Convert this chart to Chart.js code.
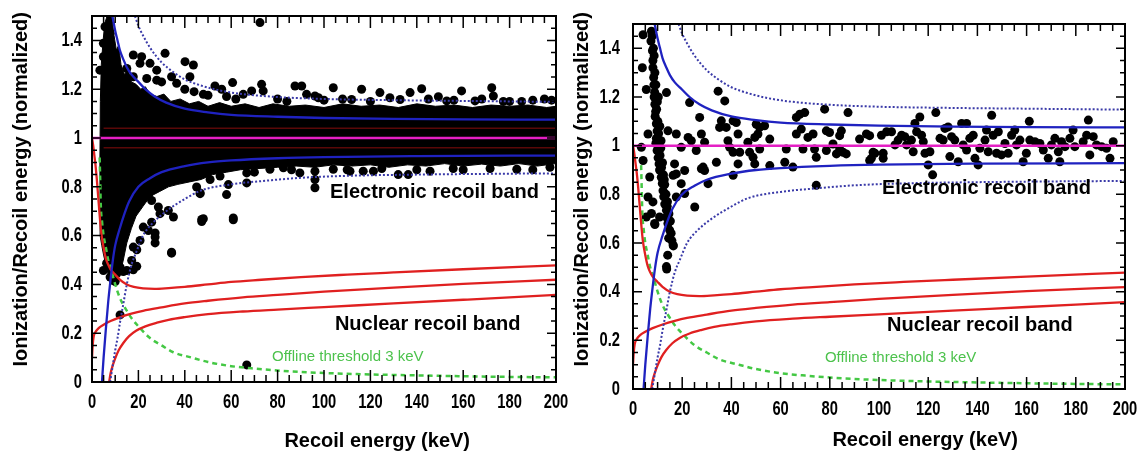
<!DOCTYPE html>
<html>
<head>
<meta charset="utf-8">
<script src="https://cdn.jsdelivr.net/npm/chart.js"></script>
<style>
  body { margin: 0; background: #fff; width: 1142px; height: 456px; overflow: hidden; position: relative; }
  canvas { position: absolute; top: 0; }
  #c1 { left: 0; }
  #c2 { left: 566px; }
</style>
</head>
<body>
<canvas id="c1" width="576" height="456"></canvas>
<canvas id="c2" width="576" height="456"></canvas>
<script>
// axis ticks
const xTicks = [0, 20, 40, 60, 80, 100, 120, 140, 160, 180, 200];
const yTicks = [0, 0.2, 0.4, 0.6, 0.8, 1, 1.2, 1.4];

// curves, [recoil energy keV, Q]
const erMean = [[0, 1], [200, 1]];
const erUpper = [[8.8,1.5],[10,1.44],[11,1.4],[12,1.36],[13.6,1.32],[15,1.29],[17,1.26],[20,1.23],[23,1.2],[27,1.17],[32,1.145],[40,1.12],[50,1.105],[60,1.095],[80,1.087],[100,1.082],[130,1.078],[160,1.076],[200,1.075]];
const erLower = [[4.3,0],[5,0.1],[6,0.22],[7,0.33],[8,0.42],[9,0.5],[10,0.56],[12,0.63],[14,0.69],[16,0.74],[20,0.8],[25,0.835],[30,0.86],[40,0.885],[50,0.9],[60,0.908],[80,0.917],[100,0.922],[140,0.926],[200,0.928]];
const erUpperWide = [[18.5,1.5],[20,1.46],[22,1.42],[25,1.37],[30,1.31],[35,1.27],[40,1.24],[47,1.215],[55,1.195],[65,1.18],[80,1.168],[100,1.16],[130,1.155],[160,1.152],[200,1.148]];
const erLowerWide = [[7.8,0],[9,0.07],[10,0.13],[11,0.18],[12,0.24],[13.5,0.32],[15,0.4],[17,0.48],[19,0.53],[22,0.6],[26,0.65],[32,0.7],[40,0.75],[47,0.785],[60,0.81],[75,0.825],[90,0.837],[110,0.845],[140,0.85],[170,0.853],[200,0.855]];
const nrUpper = [[0,1],[0.5,0.97],[1,0.93],[1.5,0.89],[2,0.84],[2.5,0.78],[3,0.72],[3.5,0.66],[4,0.61],[5,0.55],[6,0.505],[7,0.48],[8,0.462],[10,0.44],[12,0.42],[15,0.4],[18,0.39],[22,0.384],[27,0.382],[33,0.385],[40,0.39],[50,0.4],[60,0.41],[73,0.419],[90,0.43],[110,0.44],[130,0.449],[160,0.462],[200,0.478]];
const nrMean = [[0,0.1],[0.3,0.15],[0.7,0.185],[1.5,0.205],[3,0.222],[5,0.235],[8,0.25],[12,0.265],[17,0.28],[22,0.292],[30,0.306],[40,0.322],[50,0.333],[65,0.347],[80,0.357],[100,0.37],[130,0.387],[160,0.402],[200,0.419]];
const nrLower = [[7.4,0],[8,0.035],[9,0.07],[10,0.097],[11.5,0.13],[13.5,0.16],[16,0.188],[19,0.21],[23,0.228],[28,0.243],[33,0.255],[40,0.266],[50,0.278],[65,0.289],[80,0.297],[100,0.307],[130,0.322],[160,0.337],[200,0.357]];
const threshold = [[3.3,0.92],[3.5,0.84],[3.8,0.72],[4.3,0.66],[5,0.6],[6,0.55],[7,0.5],[8,0.47],[10,0.4],[12,0.345],[14.5,0.3],[17,0.262],[20,0.228],[25,0.18],[30,0.15],[35,0.122],[43,0.1],[50,0.082],[60,0.065],[70,0.055],[85,0.044],[100,0.037],[120,0.031],[140,0.027],[170,0.022],[200,0.019]];
const darkUpper = [[5,1.04],[200,1.04]];
const darkLower = [[5,0.96],[200,0.96]];

// left panel: outline of the saturated black region, then single events around it
const leftDense = [[3.5,0.6],[3.4,0.9],[3.6,1.15],[4,1.3],[4.8,1.4],[5.5,1.47],[6.5,1.5],[8.5,1.5],[9.5,1.42],[10.5,1.36],[11.5,1.38],[12.5,1.3],[14,1.26],[15.5,1.28],[17,1.23],[19,1.22],[21,1.2],[23,1.21],[25,1.18],[28,1.17],[31,1.18],[34,1.15],[38,1.16],[42,1.14],[46,1.15],[50,1.13],[55,1.145],[60,1.13],[66,1.14],[72,1.125],[78,1.14],[85,1.13],[92,1.135],[100,1.125],[108,1.14],[116,1.13],[124,1.135],[132,1.125],[140,1.14],[148,1.13],[156,1.135],[164,1.125],[172,1.135],[180,1.13],[188,1.135],[196,1.125],[200,1.13],
  [200,0.895],[192,0.885],[184,0.895],[176,0.885],[168,0.893],[160,0.885],[152,0.895],[144,0.885],[136,0.89],[128,0.88],[120,0.89],[112,0.885],[104,0.89],[96,0.88],[88,0.885],[80,0.88],[72,0.875],[64,0.87],[58,0.86],[52,0.85],[47,0.83],[42,0.82],[37,0.81],[33,0.8],[29,0.78],[25,0.76],[22,0.72],[19,0.68],[17,0.63],[15,0.57],[13.5,0.5],[12,0.44],[10,0.41],[8.5,0.41],[7,0.44],[6,0.48],[5,0.52],[4.2,0.56],[3.5,0.6]];
const leftEvents = [[60.6,1.227],[53,1.213],[55.9,1.2],[73.1,1.22],[73.8,1.193],[87.5,1.213],[90.4,1.213],[92.5,1.179],[96.1,1.172],[104,1.206],[116.2,1.2],[124.1,1.186],[128.4,1.165],[137.1,1.186],[142.1,1.202],[149.3,1.169],[159.3,1.193],[165.1,1.152],[172.3,1.206],[173,1.172],[177.3,1.15],[185.2,1.15],[198.1,1.155],[68.8,1.193],[65.2,1.179],[48,1.179],[97.6,1.165],[111.9,1.158],[132.8,1.158],[152.9,1.152],[72.4,1.473],
  [80,1.16],[84,1.15],[100,1.155],[108,1.16],[120,1.15],[145,1.16],[156,1.155],[168,1.16],[180,1.15],[190,1.155],[195,1.16],[62,1.16],[58,1.17],[50,1.175],[44,1.19],[40,1.2],
  [89.6,0.857],[96.1,0.864],[96.1,0.83],[96.1,0.796],[111.2,0.864],[116.9,0.864],[121.3,0.864],[132,0.85],[136.3,0.85],[145.7,0.864],[66.7,0.857],[66.7,0.816],[58.8,0.809],[58,0.768],[60.9,0.672],[47.3,0.666],[55.2,0.844],[50.9,0.83],[46.6,0.775],[82.5,0.878],[76.7,0.872],[104,0.872],[124.9,0.875],[155.7,0.875],[171.6,0.875],[183.1,0.872],[197.4,0.88],[140,0.87],[160,0.87],[190,0.87],[110,0.87],[70,0.86],[86,0.87],
  [5.6,1.456],[4.9,1.388],[6.3,1.347],[4.9,1.333],[7.8,1.429],[3.4,1.278],[17.8,1.34],[20.7,1.306],[21.4,1.333],[25,1.306],[27.9,1.278],[31.5,1.347],[30,1.23],[34.3,1.251],[36.5,1.224],[40.1,1.313],[43.7,1.299],[42.2,1.251],[27.9,1.237],[23.6,1.244],[15,1.285],[17.8,1.251],
  [19.3,0.799],[22.1,0.799],[24.3,0.765],[25.7,0.744],[28.6,0.717],[25.7,0.655],[24.3,0.621],[27.2,0.594],[29.3,0.69],[32.9,0.703],[35.1,0.676],[45.1,0.799],[46.6,0.772],[48,0.669],[34.3,0.532],[17.1,0.498],[15,0.457],[17.8,0.553],[10.6,0.443],[12.1,0.471],[7.8,0.43],[9.2,0.416],[4.9,0.457],[20.7,0.58],[22.1,0.635],
  [27.2,0.611],[27.2,0.57],[34.3,0.528],[19.3,0.542],[17.8,0.46],[19.3,0.474],[13.5,0.453],[10,0.412],[12.1,0.275],[66.7,0.07],[47.3,0.658],[60.9,0.665],[6.3,0.487],[9.2,0.528]];

// right panel events
const rightEvents = [[7.5,1.47],[7.3,1.43],[7.9,1.39],[8.1,1.35],[8.1,1.32],[8.4,1.28],[8.5,1.25],[8.8,1.22],[8.6,1.2],[8.9,1.17],[9.2,1.14],[9,1.12],[9.5,1.09],[9.8,1.06],[9.5,1.03],[9.3,1.01],[9.8,0.98],[10.2,0.95],[10.6,0.925],[10.8,0.9],[11.5,0.87],[11.9,0.845],[12.2,0.815],[12.5,0.79],[12.9,0.76],[13.6,0.735],[13.6,0.707],[14.2,0.68],[14.9,0.653],[16.3,0.592],[13.6,0.503],
  [8.3,1.4],[8.9,1.3],[9.3,1.25],[9.9,1.18],[10.1,1.1],[10.4,1.05],[10.6,1],[11,0.96],[11.6,0.91],[12.4,0.88],[12.9,0.84],[13.4,0.8],[14,0.77],[14.6,0.72],[15.2,0.69],[11.4,1.02],[12,0.93],[10.3,1.2],
  [7.8,1.45],[8.6,1.37],[9.6,1.15],[10.9,1.08],[11.3,0.99],[12.7,0.86],[13.9,0.75],[14.5,0.62],[15.8,0.61],[14.1,0.55],
  [4.1,1.456],[3.8,1.32],[5.4,1.231],[6.1,1.048],[3.4,0.993],[4.1,0.939],[6.8,0.871],[6.1,0.789],[8.1,0.769],[7.5,0.721],[8.8,0.68],[10.8,0.707],[5.4,0.707],[8.9,0.676],[16.4,0.588],[13.7,0.493],[15.5,0.64],
  [13.6,1.218],[14.2,1.061],[17.6,1.048],[16.9,0.925],[17.6,0.884],[16.3,0.878],[21,0.898],[19.6,0.844],[17.6,0.789],[21,0.803],[25.1,0.748],[22.4,1.034],[23.7,1.02],[19.6,0.993],[23,1.177],[27.1,1.116],[27.8,1.048],[29.1,1.014],[25.7,0.98],[28.5,0.912],[29.1,0.898],[27.8,0.905],[30.5,0.844],[33.9,0.932],[34.6,1.224],[37.3,1.184],[35.2,1.075],[35.9,1.102],[37.9,1.075],[38.6,1.02],[40.7,1.102],[42,1.095],[39.3,0.993],[40.7,0.973],[43.4,0.973],[40.7,0.878],[42.7,0.925],[42.7,1.048],[46.7,1.014],[47.4,0.973],[50.1,1.088],[50.8,1.048],[48.8,0.952],[49.5,0.925],[49.5,1.034],[51.5,1.075],[53.5,1.082],[51.5,0.986],[55.6,1.027],[55.6,0.918],[61.7,0.932],[62.3,0.986],[65,0.912],[66.4,1.048],[66.4,1.116],[67.8,1.129],[69.8,1.136],[68.4,1.068],[71.1,1.034],[69.1,0.986],[73.2,1.048],[73.8,0.986],[74.5,0.952],[74.5,0.837],[77.9,1.15],[78.6,1.061],[79.9,1.054],[78.6,0.98],[81.3,1.007],[82.7,0.966],[84,1.041],[84.7,1.061],[84,0.986],[85.4,0.973],[87.4,1.136],[86.7,0.966],[92.1,1.027],[94.9,1.048],[96.2,1.041],[97.6,0.973],[96.2,0.939],
  [96.9,0.948],[98.3,0.969],[101,1.043],[101.7,0.969],[101.7,0.948],[103.1,1.057],[105.1,1.057],[106.5,1.003],[107.8,1.023],[109.2,1.043],[110.5,1.037],[111.2,1.003],[113.2,1.023],[113.9,0.975],[114.6,1.091],[115.3,1.057],[116.6,1.118],[117.3,1.043],[118,1.016],[118.7,0.969],[120,0.921],[120.7,0.975],[121.8,0.88],[123.1,1.136],[124.8,1.03],[126.1,1.023],[126.8,1.071],[128.1,1.077],[128.8,0.955],[129.5,1.037],[130.8,1.023],[132.2,0.934],[133.6,1.091],[134.2,1.003],[135.6,1.091],[135.6,0.982],[136.9,1.03],[138.3,1.043],[139,0.948],[140.3,0.921],[141,0.989],[143.1,1.023],[143.7,1.064],[144.4,0.975],[145.8,1.125],[146.4,1.043],[147.8,0.969],[148.5,1.057],[149.8,0.962],[151.2,1.009],[152.5,0.969],[153.9,1.043],[155.2,1.064],[155.9,1.003],[157.3,1.023],[158.6,0.934],[159.9,0.969],[161.1,1.1],[161.3,1.023],[163.4,1.016],[165.4,1.009],[166.8,0.982],[168.8,0.948],[170.1,1.003],[171.5,1.03],[172.9,0.975],[173.5,0.934],[174.2,1.016],[175.6,0.996],[177.6,1.03],[178.9,1.064],[179.6,0.996],[183,1.016],[185.1,1.105],[184.4,1.043],[185.7,0.962],[187.1,1.037],[188.4,1.003],[190.5,0.996],[192.5,0.989],[193.9,0.948],[195.2,1.016]];

const pts = arr => arr.map(p => ({ x: p[0], y: p[1] }));

const titleFont = "bold 20px 'Liberation Sans', Arial, sans-serif";
const tickFont = "bold 21px 'Liberation Sans', Arial, sans-serif";

// text drawn squeezed sideways, like the narrow Helvetica of the original
function narrowText(ctx, text, px, py, align) {
  ctx.save();
  ctx.translate(px, py);
  ctx.scale(0.7, 1);
  ctx.textAlign = align;
  ctx.fillText(text, 0, 0);
  ctx.restore();
}

// ROOT-like frame: inward major/minor ticks on all four sides, tick labels, titles and band labels
const rootFrame = {
  id: 'rootFrame',
  afterDatasetsDraw(chart, args, opts) {
    const { ctx, chartArea: a } = chart;
    const x = chart.scales.x, y = chart.scales.y;
    ctx.save();
    ctx.strokeStyle = '#000';
    ctx.lineWidth = 1.5;
    ctx.beginPath();
    for (let v = 0; v <= 200; v += 5) {
      const px = x.getPixelForValue(v);
      const len = v % 20 === 0 ? 12 : 7;
      ctx.moveTo(px, a.bottom); ctx.lineTo(px, a.bottom - len);
      ctx.moveTo(px, a.top); ctx.lineTo(px, a.top + len);
    }
    for (let i = 1; i < 30; i++) {
      const py = y.getPixelForValue(i * 0.05);
      const len = i % 4 === 0 ? 9 : 5;
      ctx.moveTo(a.left, py); ctx.lineTo(a.left + len, py);
      ctx.moveTo(a.right, py); ctx.lineTo(a.right - len, py);
    }
    ctx.stroke();
    ctx.lineWidth = 2;
    ctx.strokeRect(a.left, a.top, a.right - a.left, a.bottom - a.top);

    ctx.fillStyle = '#000';
    ctx.font = tickFont;
    ctx.textBaseline = 'middle';
    xTicks.forEach(v => narrowText(ctx, String(v), x.getPixelForValue(v), a.bottom + 20, 'center'));
    yTicks.forEach(v => narrowText(ctx, String(v), a.left - opts.yLabelGap, y.getPixelForValue(v), 'right'));

    ctx.font = titleFont;
    ctx.textAlign = 'right';
    ctx.fillText('Recoil energy (keV)', opts.xTitle.x, opts.xTitle.y);
    ctx.save();
    ctx.translate(opts.yTitle.x, opts.yTitle.y);
    ctx.rotate(-Math.PI / 2);
    ctx.textAlign = 'right';
    ctx.fillText('Ionization/Recoil energy (normalized)', 0, 0);
    ctx.restore();

    ctx.textAlign = 'left';
    opts.labels.forEach(l => {
      ctx.font = l.font;
      ctx.fillStyle = l.color;
      ctx.fillText(l.text, x.getPixelForValue(l.at[0]), y.getPixelForValue(l.at[1]));
    });
    ctx.restore();
  }
};

function line(data, color, width, dash) {
  return { data: pts(data), showLine: true, pointRadius: 0, borderColor: color, borderWidth: width,
           borderDash: dash || [], fill: false, cubicInterpolationMode: 'monotone', order: 0 };
}

function makeChart(id, events, dense, frame) {
  const datasets = [
    line(erMean, '#e41fc4', 2.5),
    line(erUpper, '#1f22c0', 2.3),
    line(erLower, '#1f22c0', 2.3),
    line(erUpperWide, '#3a3aa8', 2, [2, 2]),
    line(erLowerWide, '#3a3aa8', 2, [2, 2]),
    line(nrUpper, '#e02020', 2.3),
    line(nrMean, '#e02020', 2.3),
    line(nrLower, '#e02020', 2.3),
    line(threshold, '#44c844', 2.5, [5, 4]),
    { data: pts(events), pointRadius: 4.5, pointBackgroundColor: '#000', pointBorderWidth: 0, order: 2 }
  ];
  if (dense) {
    datasets.push(line(darkUpper, '#5a0808', 1.5));
    datasets.push(line(darkLower, '#5a0808', 1.5));
    datasets.push({ data: pts(dense), showLine: true, pointRadius: 0, borderColor: '#000', borderWidth: 1,
                    backgroundColor: '#000', fill: 'shape', tension: 0, order: 3 });
  }
  return new Chart(document.getElementById(id), {
    type: 'scatter',
    data: { datasets },
    options: {
      responsive: false,
      animation: false,
      events: [],
      layout: { padding: frame.padding },
      plugins: { legend: { display: false }, tooltip: { enabled: false }, rootFrame: frame },
      scales: {
        x: {
          type: 'linear', min: 0, max: 200,
          ticks: { display: false },
          grid: { display: false, drawTicks: false },
          border: { display: false },
          afterFit: s => { s.height = frame.xHeight; }
        },
        y: {
          type: 'linear', min: 0, max: 1.5,
          ticks: { display: false },
          grid: { display: false, drawTicks: false },
          border: { display: false },
          afterFit: s => { s.width = frame.yWidth; }
        }
      }
    },
    plugins: [rootFrame]
  });
}

const labelFont = "bold 20px 'Liberation Sans', Arial, sans-serif";
const smallFont = "15px 'Liberation Sans', Arial, sans-serif";

makeChart('c1', leftEvents, leftDense, {
  padding: { top: 16, right: 20, bottom: 0, left: 0 },
  xHeight: 74, yWidth: 92, yLabelGap: 10,
  xTitle: { x: 470, y: 441 },
  yTitle: { x: 21, y: 12 },
  labels: [
    { text: 'Electronic recoil band', at: [102.6, 0.776], font: labelFont, color: '#000' },
    { text: 'Nuclear recoil band', at: [104.7, 0.234], font: labelFont, color: '#000' },
    { text: 'Offline threshold 3 keV', at: [77.6, 0.103], font: smallFont, color: '#4cc24c' }
  ]
});

makeChart('c2', rightEvents, null, {
  padding: { top: 24, right: 17, bottom: 0, left: 0 },
  xHeight: 67, yWidth: 67, yLabelGap: 13,
  xTitle: { x: 452, y: 440 },
  yTitle: { x: 16, y: 12 },
  labels: [
    { text: 'Electronic recoil band', at: [101.2, 0.824], font: labelFont, color: '#000' },
    { text: 'Nuclear recoil band', at: [103.3, 0.259], font: labelFont, color: '#000' },
    { text: 'Offline threshold 3 keV', at: [78, 0.129], font: smallFont, color: '#4cc24c' }
  ]
});
</script>
</body>
</html>
